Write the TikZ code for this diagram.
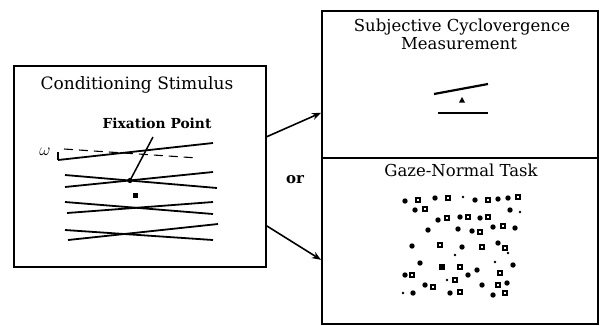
\documentclass[tikz,border=0pt]{standalone}
\usepackage{fontspec}
\setmainfont{DejaVu Serif}
\usetikzlibrary{arrows.meta}
\begin{document}
\begin{tikzpicture}[x=1pt,y=-1pt,
  boxst/.style={draw,line width=1.6pt,inner sep=0pt,anchor=north west},
  lbl/.style={inner sep=0pt},
  conn/.style={line width=1.6pt,-{Stealth[length=9pt,width=7pt]}},
  stim/.style={line width=1.8pt},
  dotf/.style={fill=black},
  doto/.style={draw=black,line width=1.6pt}]
\useasboundingbox (0,0) rectangle (604,325);
% boxes
\node[boxst,minimum width=252pt,minimum height=201pt] (lb) at (13,65) {};
\node[boxst,minimum width=276pt,minimum height=147pt] (ub) at (321,10) {};
\node[boxst,minimum width=276pt,minimum height=166pt] (lowb) at (321,157) {};
% labels
\node[lbl,font=\fontsize{17}{19}\selectfont] (cs) at (137,85) {Conditioning Stimulus};
\node[lbl,font=\fontsize{13.8}{16}\selectfont\bfseries] (fp) at (157,123) {Fixation Point};
\node[lbl,font=\fontsize{16.5}{19}\selectfont] (sc) at (462,27) {Subjective Cyclovergence};
\node[lbl,font=\fontsize{16.5}{19}\selectfont] (ms) at (459,44) {Measurement};
\node[lbl,font=\fontsize{16.5}{19}\selectfont] (gn) at (461,170) {Gaze-Normal Task};
\node[lbl,font=\fontsize{15}{18}\selectfont\bfseries] (or) at (295,180) {or};
\node[inner sep=0pt] (om) at (45,152) {\fontsize{19}{20}\selectfont$\omega$};
% arrows
\draw[conn] ([yshift=29.5pt]lb.east) -- ([yshift=-28.5pt]ub.west);
\draw[conn] ([yshift=-59.5pt]lb.east) -- ([yshift=-19pt]lowb.west);
% conditioning stimulus lines
\draw[line width=1.4pt] (58,152) -- (58,160);
\draw[stim] (58,160) -- (213,143);
\draw[line width=1.1pt,dash pattern=on 9pt off 6pt] (64,149) -- (198,158);
\draw[stim] (65,175) -- (217,188);
\draw[stim] (65,187) -- (213,172);
\draw[stim] (65,202) -- (213,214);
\draw[stim] (67,213) -- (213,202);
\draw[stim] (65,230) -- (213,240);
\draw[stim] (68,240) -- (218,224);
\coordinate (fpt) at (130,180.5);
\draw[line width=1.5pt] (153,137) -- (fpt);
\fill (fpt) circle (2.6pt);
\fill (132.5,193) rectangle (137.5,198);
% cyclovergence stimulus
\draw[line width=2.2pt] (434,94) -- (488,84);
\fill (459,102.5) -- (462,97) -- (465,102.5) -- cycle;
\draw[line width=1.3pt] (438,113) -- (488,113);
% random dots
\foreach \x/\y in {405/201,435/198,475/200,498/199,508/198,415/210,510/210,438/220,460/217,480/218,428/230,458/229,472/231,493/227,515/228,412/246,462/247,498/243,420/263,442/267,477/270,513/265,405/275,468/275,425/285,482/285,507/283,413/293,450/293,493/295}
  \fill[dotf] (\x,\y) circle (2.7pt);
\foreach \x/\y in {418/200,448/198,488/200,518/197,425/209,447/218,468/217,488/217,480/232,503/226,440/245,482/247,505/248,442/267,460/267,412/275,455/280,500/273,433/287,498/285,460/292,505/293}
  \draw[doto] (\x-2.2,\y-2.2) rectangle (\x+2.2,\y+2.2);
\foreach \x/\y in {463/197,520/212,508/253,455/255,495/262,447/280,403/293}
  \fill[dotf] (\x,\y) circle (1.3pt);
\end{tikzpicture}
\end{document}
